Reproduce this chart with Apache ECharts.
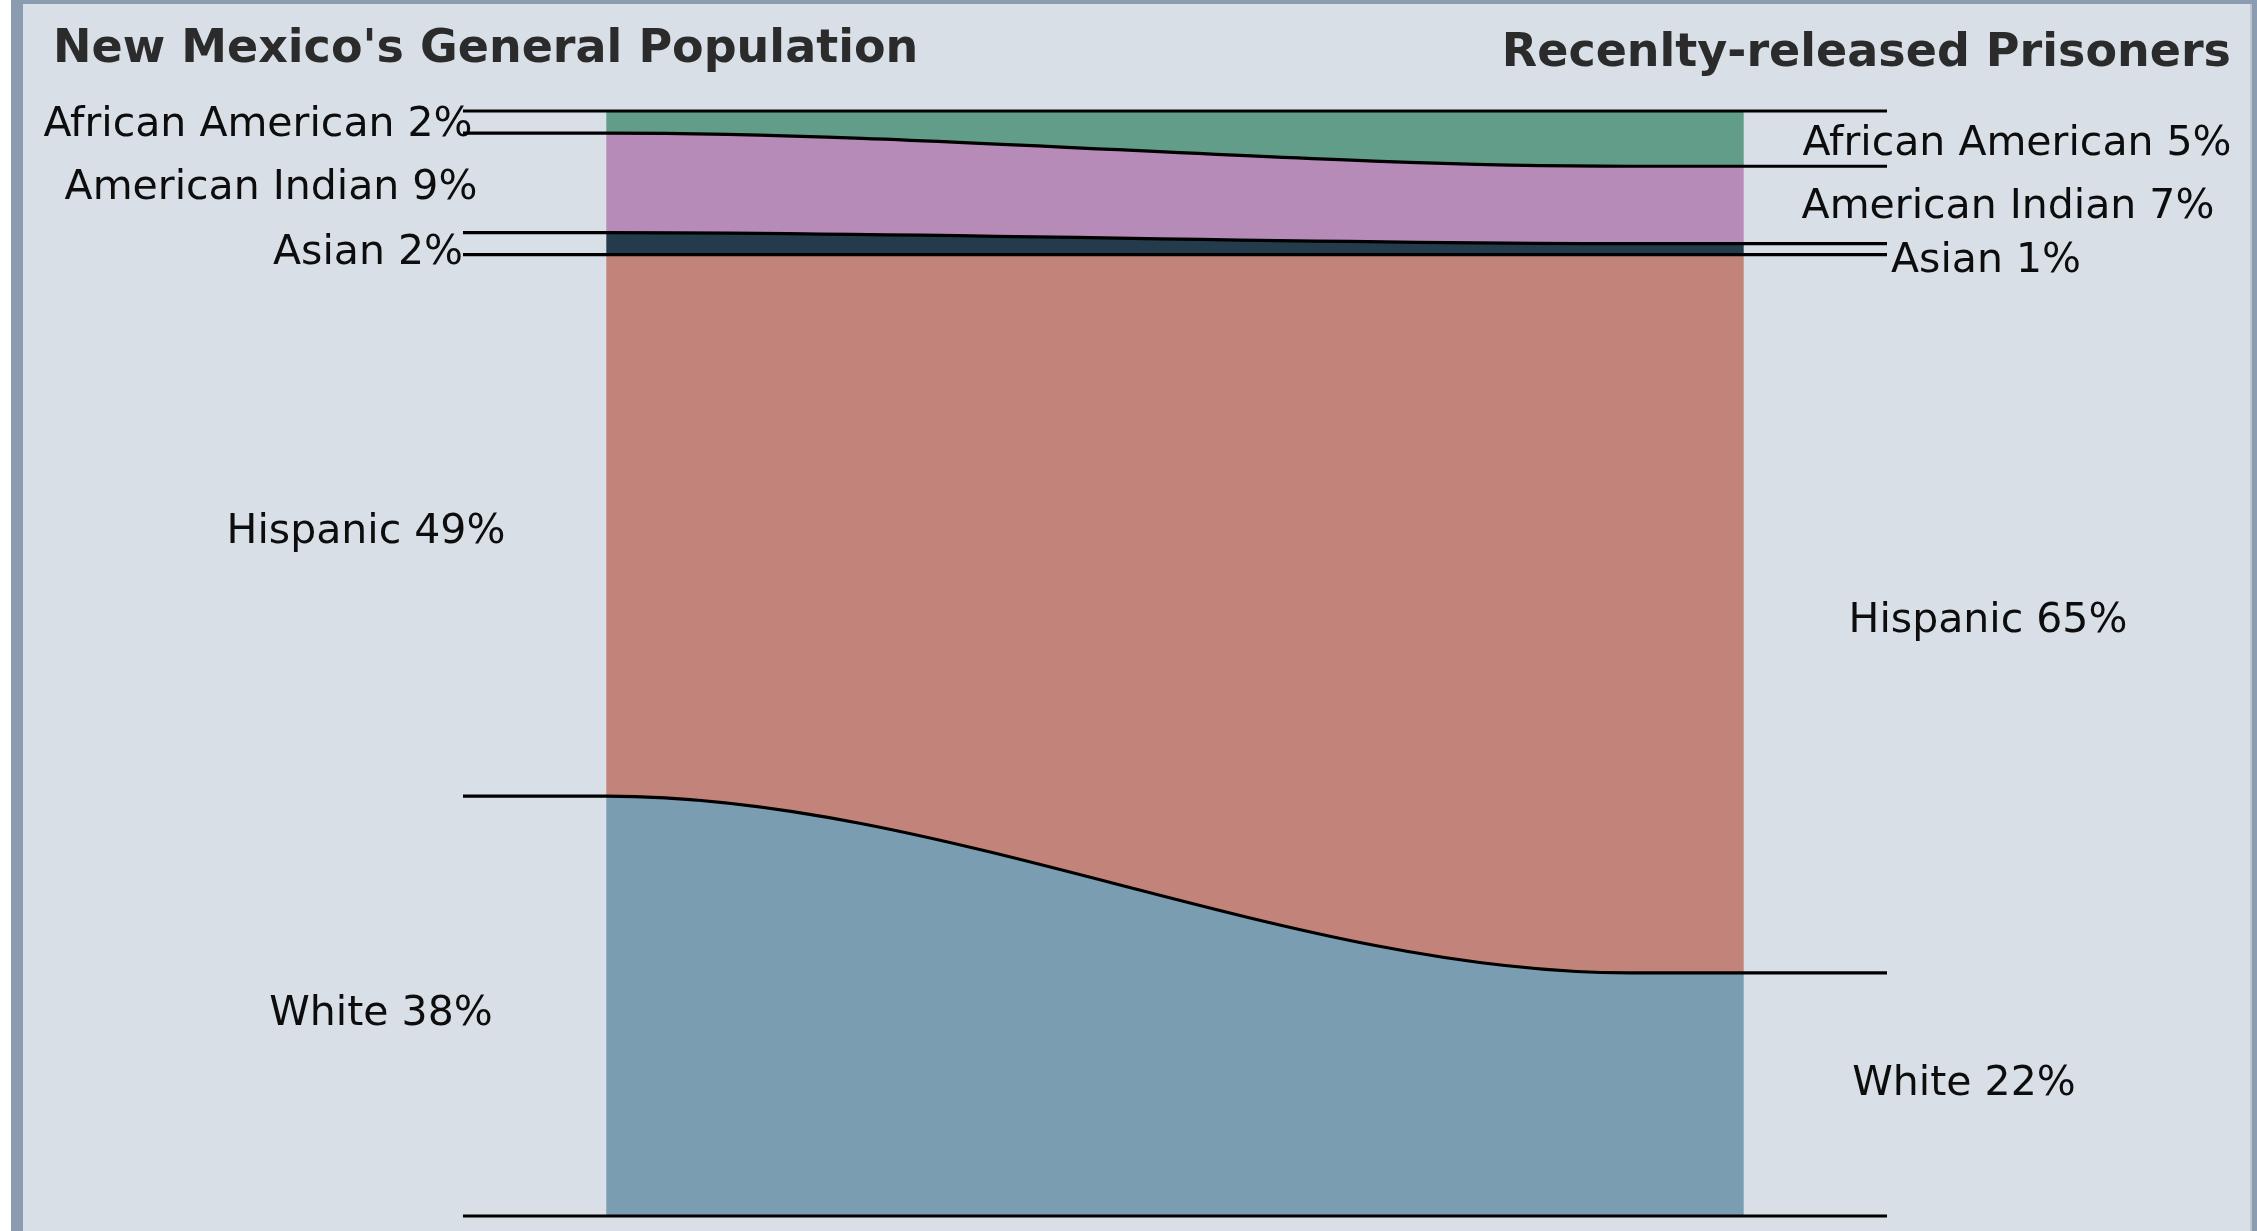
<!DOCTYPE html>
<html>
<head>
<meta charset="utf-8">
<title>New Mexico population vs. recently-released prisoners</title>
<script src="https://cdn.jsdelivr.net/npm/echarts@6/dist/echarts.min.js"></script>
<style>
  html, body { margin: 0; padding: 0; background: #ffffff; }
  #chart { width: 2257px; height: 1231px; }
</style>
</head>
<body>
<div id="chart"></div>
<script>
// Race / ethnicity shares, in percent
const categories = ['African American', 'American Indian', 'Asian', 'Hispanic', 'White'];
const generalPopulation = [2, 9, 2, 49, 38];
const releasedPrisoners = [5, 7, 1, 65, 22];
const sideTitles = ["New Mexico's General Population", 'Recenlty-released Prisoners'];

// Fill colour of each band
const bandColors = ['#629d89', '#b68bb8', '#243b4b', '#c2837a', '#7b9db2'];

// Label placement: horizontal centre (px) and small vertical nudge for each side
const leftLabelX = [258, 271, 368, 366, 381];
const leftLabelDy = [3, 6, 10, 7, 8];
const rightLabelX = [2017, 2008, 1986, 1988, 1964];
const rightLabelDy = [6, 2, 12, 8, -10];

// Leader lines run past the bars by this much (x-axis units), curves settle at CURVE_END
const LEAD = 0.126;
const CURVE_END = 0.9;
const LABEL_FONT = '"DejaVu Sans", Verdana, sans-serif';

function stackBounds(values) {
  let acc = 0;
  return values.map(v => { const s = acc; acc += v; return [s, acc]; });
}
const leftBounds = stackBounds(generalPopulation);
const rightBounds = stackBounds(releasedPrisoners);

const bandData = categories.map((name, i) => ({
  name,
  value: [leftBounds[i][0], leftBounds[i][1], rightBounds[i][0], rightBounds[i][1]]
}));
// every boundary between bands, including top and bottom edges
const boundaryData = [[0, 0]].concat(leftBounds.map((b, i) => [b[1], rightBounds[i][1]]));

// S-shaped edge from (xa, ya) to (xb, yb) as cubic bezier commands
function sCurve(xa, ya, xb, yb) {
  const dx = xb - xa;
  return `C${xa + dx / 3},${ya} ${xa + 2 * dx / 3},${yb} ${xb},${yb}`;
}

function renderBand(params, api) {
  const i = params.dataIndex;
  const x0 = api.coord([0, 0])[0];
  const xe = api.coord([CURVE_END, 0])[0];
  const x1 = api.coord([1, 0])[0];
  const yTL = api.coord([0, api.value(0)])[1];
  const yBL = api.coord([0, api.value(1)])[1];
  const yTR = api.coord([1, api.value(2)])[1];
  const yBR = api.coord([1, api.value(3)])[1];
  const d = `M${x0},${yTL} ${sCurve(x0, yTL, xe, yTR)} L${x1},${yTR} L${x1},${yBR} L${xe},${yBR} ` +
            `C${xe - (xe - x0) / 3},${yBR} ${xe - 2 * (xe - x0) / 3},${yBL} ${x0},${yBL} Z`;
  const textStyle = { fontFamily: LABEL_FONT, fontSize: 41, fill: '#0d0d0d', align: 'center', verticalAlign: 'middle' };
  return {
    type: 'group',
    children: [
      { type: 'path', shape: { pathData: d }, style: { fill: bandColors[i], stroke: null } },
      {
        type: 'text', z2: 5,
        x: leftLabelX[i], y: (yTL + yBL) / 2 + leftLabelDy[i],
        style: Object.assign({ text: `${categories[i]} ${generalPopulation[i]}%` }, textStyle)
      },
      {
        type: 'text', z2: 5,
        x: rightLabelX[i], y: (yTR + yBR) / 2 + rightLabelDy[i],
        style: Object.assign({ text: `${categories[i]} ${releasedPrisoners[i]}%` }, textStyle)
      }
    ]
  };
}

function renderBoundary(params, api) {
  const xs = api.coord([-LEAD, 0])[0];
  const x0 = api.coord([0, 0])[0];
  const xe = api.coord([CURVE_END, 0])[0];
  const xf = api.coord([1 + LEAD, 0])[0];
  const yL = api.coord([0, api.value(0)])[1];
  const yR = api.coord([1, api.value(1)])[1];
  const d = `M${xs},${yL} L${x0},${yL} ${sCurve(x0, yL, xe, yR)} L${xf},${yR}`;
  return {
    type: 'path',
    shape: { pathData: d },
    style: { fill: null, stroke: '#000000', lineWidth: 3.2, lineJoin: 'round', lineCap: 'butt' }
  };
}

const chart = echarts.init(document.getElementById('chart'), null, { renderer: 'canvas' });
chart.setOption({
  backgroundColor: '#d8dfe7',
  animation: false,
  title: [
    {
      text: sideTitles[0], left: 53, top: 27, padding: 0,
      textStyle: { fontFamily: LABEL_FONT, fontWeight: 'bold', fontSize: 46, lineHeight: 46, color: '#2b2b2b' }
    },
    {
      text: sideTitles[1], right: 26, top: 31, padding: 0,
      textStyle: { fontFamily: LABEL_FONT, fontWeight: 'bold', fontSize: 46, lineHeight: 46, color: '#2b2b2b' }
    }
  ],
  graphic: [
    { type: 'rect', left: 0, top: 0, shape: { width: 11, height: 1231 }, style: { fill: '#ffffff' }, silent: true },
    { type: 'rect', left: 11, top: 0, shape: { width: 12, height: 1231 }, style: { fill: '#8b9bb0' }, silent: true },
    { type: 'rect', left: 11, top: 0, shape: { width: 2246, height: 4 }, style: { fill: '#8b9bb0' }, silent: true },
    { type: 'rect', left: 2250, top: 4, shape: { width: 2, height: 1227 }, style: { fill: '#bcc5d0' }, silent: true },
    { type: 'rect', left: 2252, top: 0, shape: { width: 5, height: 1231 }, style: { fill: '#8b9bb0' }, silent: true }
  ],
  grid: { left: 463, right: 370, top: 111, bottom: 15 },
  xAxis: { type: 'value', min: -LEAD, max: 1 + LEAD, show: false },
  yAxis: { type: 'value', min: 0, max: 100, inverse: true, show: false },
  series: [
    { type: 'custom', name: 'bands', z: 2, renderItem: renderBand, data: bandData, clip: false },
    { type: 'custom', name: 'boundaries', z: 3, renderItem: renderBoundary, data: boundaryData, clip: false }
  ]
});
</script>
</body>
</html>
